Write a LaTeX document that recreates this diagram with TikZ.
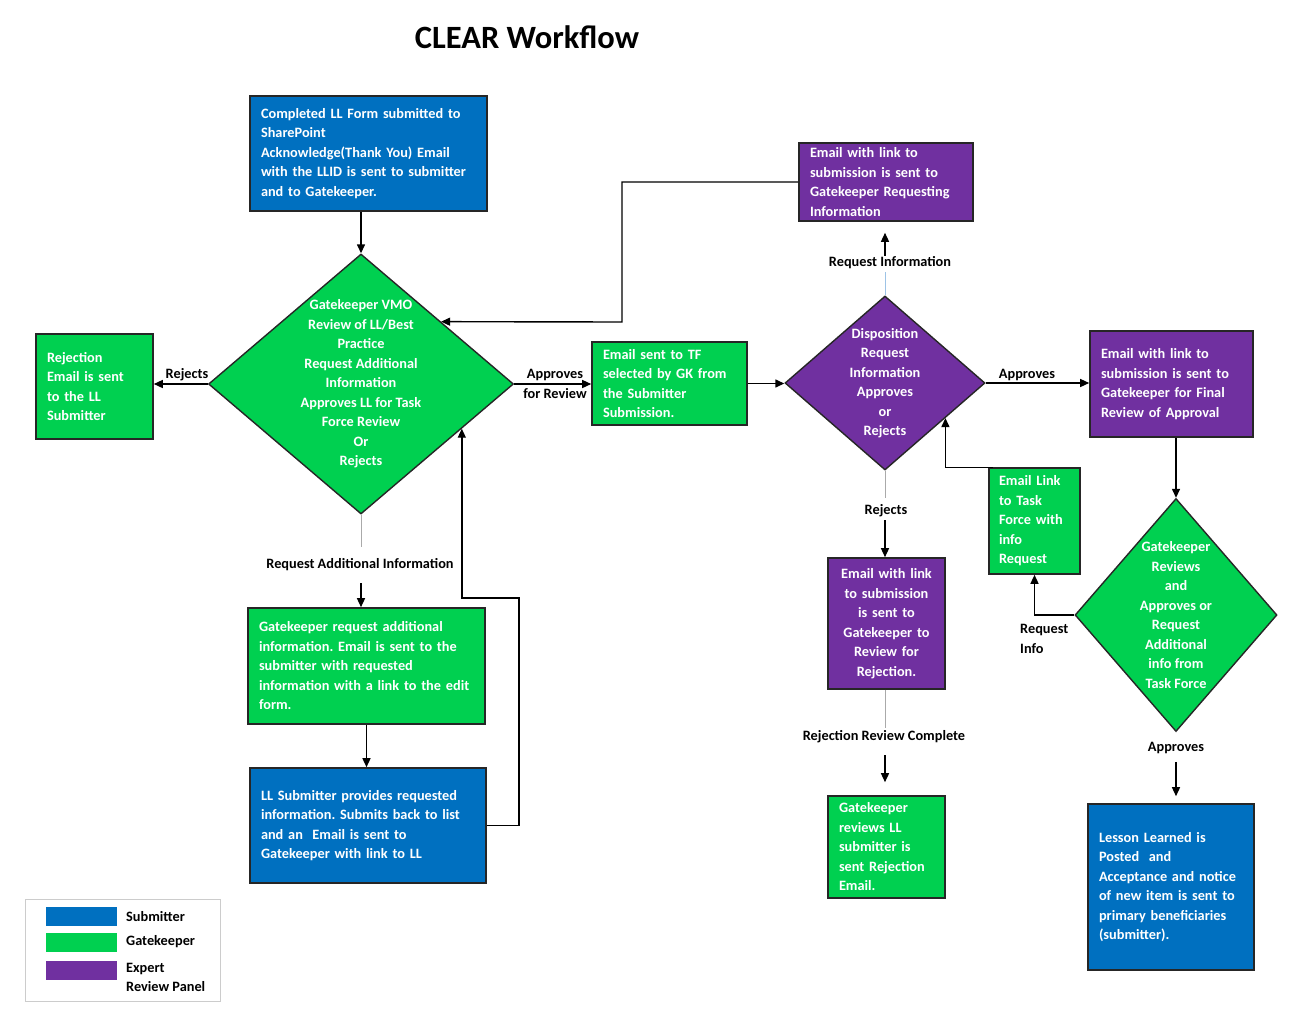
\documentclass[tikz,border=0pt]{standalone}
\usepackage{fontspec}
\setmainfont{Carlito}
\usetikzlibrary{shapes.geometric,arrows.meta,calc}
\definecolor{cblue}{RGB}{0,112,192}
\definecolor{cgreen}{RGB}{0,208,80}
\definecolor{cpurple}{RGB}{112,48,160}
\definecolor{stubgray}{RGB}{170,170,170}
\definecolor{stubblue}{RGB}{157,195,230}
\frenchspacing
\begin{document}
\begin{tikzpicture}[x=1pt,y=-1pt,
 txt/.style={font=\fontsize{14.3}{19.5}\selectfont\bfseries},
 bx/.style={txt, rectangle, draw=black!85, line width=1.6pt, text=white, align=left, inner xsep=11pt, inner ysep=0pt},
 subm/.style={bx, fill=cblue}, gkp/.style={bx, fill=cgreen}, expp/.style={bx, fill=cpurple},
 dia/.style={diamond, draw=black!85, line width=1.4pt, inner sep=0pt},
 dtext/.style={txt, text=white, align=center, inner sep=0pt},
 lbl/.style={txt, text=black, align=center, inner sep=1pt},
 arr/.style={-{Triangle[length=9pt,width=8pt]}, line width=1.4pt, black},
 ln/.style={line width=1.4pt, black},
 stub/.style={line width=1pt, stubgray}]
\fill[white] (0,0) rectangle (1296,1015);
\useasboundingbox (0,0) rectangle (1296,1015);

\node[font=\fontsize{32.5}{36}\selectfont\bfseries] (title) at (527,37) {CLEAR Workflow};

% boxes
\node[subm, minimum width=237, minimum height=115, text width=215] (box1) at (368.5,153.5)
 {Completed LL Form submitted to\\SharePoint\\Acknowledge(Thank You) Email\\with the LLID is sent to submitter\\and to Gatekeeper.};
\node[gkp, minimum width=117, minimum height=105, text width=95] (rej) at (94.5,386.5)
 {Rejection\\Email is sent\\to the LL\\Submitter};
\node[gkp, minimum width=155, minimum height=83, text width=133] (tf) at (669.5,383.5)
 {Email sent to TF\\selected by GK from\\the Submitter\\Submission.};
\node[expp, minimum width=174, minimum height=78, text width=152] (rinfo) at (886,182)
 {Email with link to\\submission is sent to\\Gatekeeper Requesting\\Information};
\node[expp, minimum width=163, minimum height=106, text width=141] (final) at (1171.5,384)
 {Email with link to\\submission is sent to\\Gatekeeper for Final\\Review of Approval};
\node[gkp, minimum width=91, minimum height=106, text width=71, inner xsep=10pt] (elink) at (1034.5,521)
 {Email Link\\to Task\\Force with\\info\\Request};
\node[expp, minimum width=117, minimum height=131, text width=95, align=center] (rejrev) at (886.5,623.5)
 {Email with link\\to submission\\is sent to\\Gatekeeper to\\Review for\\Rejection.};
\node[gkp, minimum width=117, minimum height=102, text width=95] (gkrej) at (886.5,847)
 {Gatekeeper\\reviews LL\\submitter is\\sent Rejection\\Email.};
\node[gkp, minimum width=237, minimum height=116, text width=215] (gkreq) at (366.5,666)
 {Gatekeeper request additional\\information. Email is sent to the\\submitter with requested\\information with a link to the edit\\form.};
\node[subm, minimum width=236, minimum height=115, text width=214] (llsub) at (368,825.5)
 {LL Submitter provides requested\\information. Submits back to list\\and an~ Email is sent to\\Gatekeeper with link to LL};
\node[subm, minimum width=166, minimum height=166, text width=144] (lesson) at (1171,887)
 {Lesson Learned is\\Posted~ and\\Acceptance and notice\\of new item is sent to\\primary beneficiaries\\(submitter).};

% diamonds
\node[dia, fill=cgreen, minimum width=305, minimum height=260] (d1) at (361,384) {};
\node[dtext] (d1t) at (d1) {Gatekeeper VMO\\Review of LL/Best\\Practice\\Request Additional\\Information\\Approves LL for Task\\Force Review\\Or\\Rejects};
\node[dia, fill=cpurple, minimum width=200, minimum height=174] (d2) at (885,383) {};
\node[dtext] (d2t) at (d2) {Disposition\\Request\\Information\\Approves\\or\\Rejects};
\node[dia, fill=cgreen, minimum width=202, minimum height=233] (d3) at (1176,615) {};
\node[dtext] (d3t) at (d3) {Gatekeeper\\Reviews\\and\\Approves or\\Request\\Additional\\info from\\Task Force};

% labels
\node[lbl] (lRej1) at (187,375) {Rejects};
\node[lbl] (lApp1) at (555,384) {Approves\\for Review};
\node[lbl] (lRI) at (890,263) {Request Information};
\node[lbl] (lApp2) at (1027,375) {Approves};
\node[lbl] (lRej2) at (886,511) {Rejects};
\node[lbl] (lRRC) at (884,737) {Rejection Review Complete};
\node[lbl, align=left, anchor=west] (lReqInfo) at (1019,639) {Request\\Info};
\node[lbl] (lApp3) at (1176,748) {Approves};
\node[lbl] (lRAI) at (360,565) {Request Additional Information};

% helper points
\coordinate (p1) at ($(d1.north)!0.523!(d1.east)$);
\coordinate (p3) at ($(d1.east)!0.342!(d1.south)$);
\coordinate (p2) at ($(d2.east)!0.4!(d2.south)$);
\coordinate (c1) at (622,322);
\coordinate (c2) at (519,598);
\coordinate (e1) at ($(elink.north west)+(5,0)$);

% connectors
\draw[arr] (box1.south -| d1.north) -- (d1.north);
\draw[arr] (d1.west) -- (d1.west -| rej.east);
\draw[arr] (d1.east) -- (d1.east -| tf.west);
\draw[arr] (tf.east) -- (tf.east -| d2.west);
\draw[arr] (d2.east) -- (d2.east -| final.west);
\draw[arr] (final.south -| d3.north) -- (d3.north);
\draw[arr] (d3.west) -| (elink.south);
\draw[arr] (e1) -| (p2);
\draw[arr] (rinfo.west) -| (c1) -- (p1);
\draw[arr] (llsub.east) -| (c2) -| (p3);
\draw[arr] (gkreq.south) -- (gkreq.south |- llsub.north);

\draw[stub, shorten >=11pt] (d1.south) -- (d1.south |- lRAI.north);
\draw[arr, shorten <=11pt] (lRAI.south -| d1.south) -- (d1.south |- gkreq.north);
\draw[stubblue, line width=1pt, shorten >=2pt] (d2.north) -- (d2.north |- lRI.south);
\draw[arr, shorten >=11pt] (lRI.north -| d2.north) -- (d2.north |- rinfo.south);
\draw[stub, shorten >=6pt] (d2.south) -- (d2.south |- lRej2.north);
\draw[arr, shorten <=2pt] (lRej2.south -| d2.south) -- (d2.south |- rejrev.north);
\draw[stub, shorten >=2pt] (rejrev.south -| d2.south) -- (d2.south |- lRRC.north);
\draw[arr, shorten <=11pt, shorten >=13pt] (lRRC.south -| d2.south) -- (d2.south |- gkrej.north);
\draw[arr, shorten <=7pt, shorten >=7pt] (lApp3.south -| d3.south) -- (d3.south |- lesson.north);

% legend
\node[draw=black!20, line width=0.8pt, minimum width=195, minimum height=102, inner sep=0pt] (legend) at (122.5,950) {};
\node[fill=cblue, minimum width=71, minimum height=19, inner sep=0pt] (swb) at (81.5,916.5) {};
\node[fill=cgreen, minimum width=71, minimum height=19, inner sep=0pt] (swg) at (81.5,942.5) {};
\node[fill=cpurple, minimum width=71, minimum height=19, inner sep=0pt] (swp) at (81.5,970) {};
\node[lbl, anchor=west, align=left] (tsub) at (125,917) {Submitter};
\node[lbl, anchor=west, align=left] (tgk) at (125,942) {Gatekeeper};
\node[lbl, anchor=west, align=left] (texp) at (125,977.5) {Expert\\Review Panel};
\end{tikzpicture}
\end{document}
